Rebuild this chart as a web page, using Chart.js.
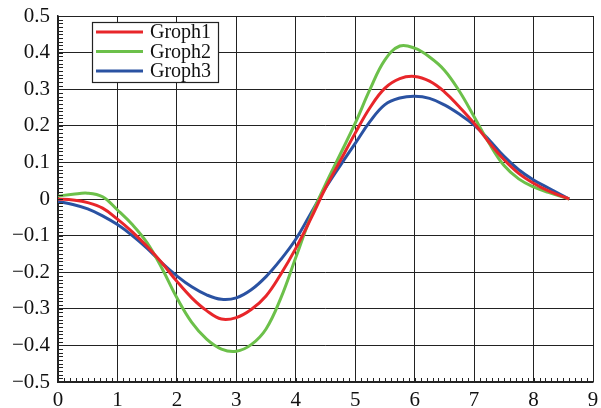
<!DOCTYPE html>
<html>
<head>
<meta charset="utf-8">
<script src="https://cdn.jsdelivr.net/npm/chart.js@4.4.0/dist/chart.umd.min.js"></script>
<style>
  body { margin: 0; background: #fff; }
  canvas { display: block; }
</style>
</head>
<body>
<canvas id="myLineChart" width="601" height="408"></canvas>
<script>
// data
const xValues = [0, 0.25, 0.5, 0.75, 1, 1.25, 1.5, 1.75, 2, 2.25, 2.5, 2.75, 3, 3.25, 3.5, 3.75, 4, 4.25, 4.5, 4.75, 5, 5.25, 5.5, 5.75, 6, 6.25, 6.5, 6.75, 7, 7.25, 7.5, 7.75, 8, 8.25, 8.6];
const graph1 = [0, -0.003, -0.01, -0.025, -0.055, -0.09, -0.13, -0.175, -0.225, -0.27, -0.305, -0.328, -0.324, -0.302, -0.265, -0.205, -0.135, -0.055, 0.03, 0.105, 0.18, 0.25, 0.303, 0.329, 0.335, 0.322, 0.293, 0.252, 0.207, 0.155, 0.108, 0.07, 0.043, 0.022, 0];
const graph2 = [0.008, 0.013, 0.016, 0.006, -0.03, -0.07, -0.12, -0.19, -0.27, -0.337, -0.383, -0.41, -0.416, -0.398, -0.355, -0.27, -0.16, -0.05, 0.04, 0.123, 0.207, 0.3, 0.38, 0.418, 0.412, 0.388, 0.352, 0.295, 0.225, 0.153, 0.092, 0.055, 0.033, 0.018, 0];
const graph3 = [-0.007, -0.015, -0.027, -0.046, -0.07, -0.1, -0.135, -0.175, -0.21, -0.24, -0.262, -0.274, -0.27, -0.248, -0.212, -0.165, -0.11, -0.04, 0.03, 0.092, 0.152, 0.212, 0.258, 0.276, 0.281, 0.275, 0.257, 0.232, 0.202, 0.162, 0.117, 0.08, 0.052, 0.03, 0];
const seriesNames = ["Groph1", "Groph2", "Groph3"];
const seriesColors = ["#e8262a", "#6cc04a", "#2a52a2"];
const xRange = [0, 9];
const yRange = [-0.5, 0.5];

const toPoints = (ys) => xValues.map((x, i) => ({ x: x, y: ys[i] }));

const fmt = (v) => {
  const s = Math.abs(v) < 1e-9 ? "0" : (Number.isInteger(v) ? String(v) : v.toFixed(1));
  return s.replace("-", "\u2212");
};

// small inside ticks + legend box
const extras = {
  id: "extras",
  afterDraw(chart) {
    const ctx = chart.ctx;
    const xs = chart.scales.x, ys = chart.scales.y;
    const a = chart.chartArea;
    ctx.save();
    ctx.strokeStyle = "#222";
    ctx.lineWidth = 1;
    ctx.beginPath();
    for (let i = 0; i <= 90; i++) {
      const px = Math.round(xs.getPixelForValue(i / 10)) + 0.5;
      ctx.moveTo(px, a.bottom);
      ctx.lineTo(px, a.bottom - 4);
    }
    for (let i = -50; i <= 50; i++) {
      const py = Math.round(ys.getPixelForValue(i / 100)) + 0.5;
      ctx.moveTo(a.left, py);
      ctx.lineTo(a.left + 5, py);
    }
    ctx.stroke();

    // legend
    const bx = a.left + 34, by = a.top + 6, bw = 126, bh = 60;
    ctx.fillStyle = "#fff";
    ctx.fillRect(bx, by, bw, bh);
    ctx.strokeStyle = "#222";
    ctx.lineWidth = 1.2;
    ctx.strokeRect(bx + 0.5, by + 0.5, bw, bh);
    ctx.font = "20px 'Liberation Serif', serif";
    ctx.textBaseline = "middle";
    seriesNames.forEach((name, i) => {
      const yy = by + 10 + i * 19.5;
      ctx.strokeStyle = seriesColors[i];
      ctx.lineWidth = 3;
      ctx.beginPath();
      ctx.moveTo(bx + 4, yy);
      ctx.lineTo(bx + 51, yy);
      ctx.stroke();
      ctx.fillStyle = "#111";
      ctx.fillText(name, bx + 58, yy + 1);
    });
    ctx.restore();
  }
};

const ctx = document.getElementById("myLineChart").getContext("2d");
new Chart(ctx, {
  type: "line",
  data: {
    datasets: [
      { label: seriesNames[0], data: toPoints(graph1), borderColor: seriesColors[0] },
      { label: seriesNames[1], data: toPoints(graph2), borderColor: seriesColors[1] },
      { label: seriesNames[2], data: toPoints(graph3), borderColor: seriesColors[2] },
    ].map(d => Object.assign(d, { borderWidth: 3, pointRadius: 0, tension: 0.4, fill: false })),
  },
  options: {
    responsive: false,
    animation: false,
    layout: { padding: { top: 16, right: 8, left: 0, bottom: 0 } },
    plugins: { legend: { display: false }, tooltip: { enabled: false } },
    scales: {
      x: {
        type: "linear",
        min: xRange[0], max: xRange[1],
        afterFit: (s) => { s.height = 26; s.paddingLeft = 0; s.paddingRight = 0; },
        ticks: { stepSize: 1, color: "#111", padding: 6, font: { family: "'Liberation Serif', serif", size: 21 }, callback: fmt },
        grid: { color: "#222", lineWidth: 1, drawTicks: false },
        border: { color: "#222", width: 1.5 },
      },
      y: {
        type: "linear",
        min: yRange[0], max: yRange[1],
        afterFit: (s) => { s.width = 58; s.paddingTop = 0; s.paddingBottom = 0; },
        ticks: { stepSize: 0.1, color: "#111", padding: 8, font: { family: "'Liberation Serif', serif", size: 21 }, callback: fmt },
        grid: { color: "#222", lineWidth: 1, drawTicks: false },
        border: { color: "#222", width: 1.5 },
      },
    },
  },
  plugins: [extras],
});
</script>
</body>
</html>
